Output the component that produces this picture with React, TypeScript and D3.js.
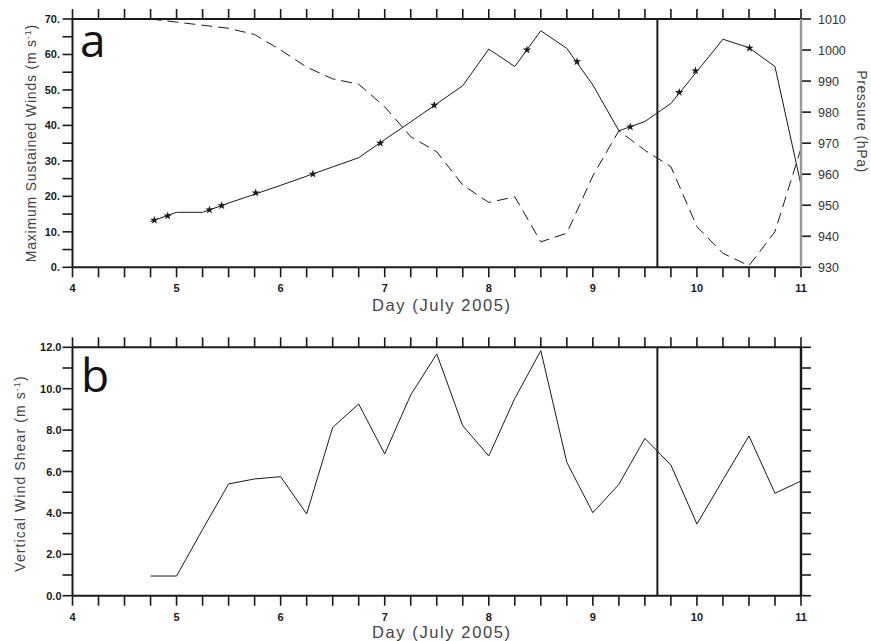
import React from "react";
import * as d3 from "d3";

// ---- data ----
const days = [4.75, 5.0, 5.25, 5.5, 5.75, 6.0, 6.25, 6.5, 6.75, 7.0, 7.25, 7.5, 7.75, 8.0, 8.25, 8.5, 8.75, 9.0, 9.25, 9.5, 9.75, 10.0, 10.25, 10.5, 10.75, 11.0];
const maxWinds = [12.9, 15.5, 15.5, 18.1, 20.6, 23.1, 25.7, 28.3, 30.9, 36.0, 41.0, 46.1, 51.2, 61.5, 56.6, 66.7, 61.7, 51.4, 38.5, 41.1, 46.2, 55.2, 64.3, 61.9, 56.6, 23.2];
const pressure = [1010, 1009, 1008, 1007, 1005, 1000, 994.5, 990.7, 989.0, 981.7, 972.1, 967.2, 956.5, 950.9, 952.7, 938.2, 941.0, 959.5, 974.0, 967.7, 962.4, 943.1, 934.5, 930.5, 941.5, 968.3];
const shear = [0.95, 0.95, 3.2, 5.4, 5.64, 5.75, 3.95, 8.13, 9.26, 6.85, 9.7, 11.68, 8.21, 6.75, 9.53, 11.84, 6.44, 4.01, 5.38, 7.6, 6.31, 3.46, 5.6, 7.72, 4.95, 5.54];
const obsDays = [4.787, 4.915, 5.316, 5.434, 5.76, 6.31, 6.957, 7.476, 8.367, 8.848, 9.36, 9.83, 9.986, 10.505];
const obsWinds = [13.3, 14.5, 16.2, 17.4, 21.0, 26.3, 35.0, 45.7, 61.3, 58.0, 39.6, 49.3, 55.4, 61.8];
const markerDay = 9.62;
const xTickLabels = [4, 5, 6, 7, 8, 9, 10, 11];
const windTickLabels = [0, 10, 20, 30, 40, 50, 60, 70];
const pressureTickLabels = [930, 940, 950, 960, 970, 980, 990, 1000, 1010];
const shearTickLabels = [0, 2, 4, 6, 8, 10, 12];

const X0 = 72.5, X1 = 801;
const TOP_A = 19, BOT_A = 267.3;
const TOP_B = 347.3, BOT_B = 595.7;
const TL = 10;
const FONT = "'Liberation Sans', Arial, sans-serif";
const INK = "#1a1a1a";
const TITLE = "#444";

export default function App() {
  const x = d3.scaleLinear().domain([4, 11]).range([X0, X1]);
  const yW = d3.scaleLinear().domain([0, 70]).range([BOT_A, TOP_A]);
  const yP = d3.scaleLinear().domain([930, 1010]).range([BOT_A, TOP_A]);
  const yS = d3.scaleLinear().domain([0, 12]).range([BOT_B, TOP_B]);

  const xMinor = d3.range(4, 11.001, 0.25);
  const windLine = d3.line<number>().x((_, i) => x(days[i])).y((d) => yW(d))(maxWinds) || "";
  const presLine = d3.line<number>().x((_, i) => x(days[i])).y((d) => yP(d))(pressure) || "";
  const shearLine = d3.line<number>().x((_, i) => x(days[i])).y((d) => yS(d))(shear) || "";
  const star = d3.symbol(d3.symbolStar, 22)() || "";

  const xAxis = (top: number, bot: number, labelY: number, titleY: number) => (
    <g>
      {xMinor.map((d, i) => (
        <g key={i}>
          <line x1={x(d)} x2={x(d)} y1={top} y2={top - TL} stroke={INK} strokeWidth={1.6} />
          <line x1={x(d)} x2={x(d)} y1={bot} y2={bot + TL} stroke={INK} strokeWidth={1.6} />
        </g>
      ))}
      {xTickLabels.map((d) => (
        <text key={d} x={x(d)} y={labelY} textAnchor="middle" fontFamily={FONT} fontWeight="bold" fontSize={11} fill={INK}>
          {d}
        </text>
      ))}
      <text x={441} y={titleY} textAnchor="middle" fontFamily={FONT} fontSize={16.5} fill={TITLE} textLength={138} lengthAdjust="spacing">
        Day (July 2005)
      </text>
    </g>
  );

  return (
    <svg width={871} height={641} style={{ position: "absolute", left: 0, top: 0, background: "#fff" }}>
      <rect width={871} height={641} fill="#fff" />
      {/* ---------- Panel a ---------- */}
      <g>
        {xAxis(TOP_A, BOT_A, 292, 311)}
        {d3.range(0, 70.001, 5).map((d) => (
          <line key={d} x1={X0} x2={X0 - TL} y1={yW(d)} y2={yW(d)} stroke={INK} strokeWidth={1.6} />
        ))}
        {windTickLabels.map((d) => (
          <text key={d} x={60} y={yW(d) + 4} textAnchor="end" fontFamily={FONT} fontWeight="bold" fontSize={11} fill={INK}>
            {d + "."}
          </text>
        ))}
        {pressureTickLabels.map((d) => (
          <g key={d}>
            <line x1={X1} x2={X1 + TL} y1={yP(d)} y2={yP(d)} stroke={INK} strokeWidth={1.6} />
            <text x={818} y={yP(d) + 4.5} fontFamily={FONT} fontSize={12.5} fill="#333">{d}</text>
          </g>
        ))}
        <text transform={`translate(36,${(TOP_A + BOT_A) / 2}) rotate(-90)`} textAnchor="middle" fontFamily={FONT} fontSize={14} letterSpacing={0.8} fill={TITLE}>
          Maximum Sustained Winds (m s<tspan dy={-5} fontSize={9}>-1</tspan><tspan dy={5}>)</tspan>
        </text>
        <text transform={`translate(857,121.5) rotate(90)`} textAnchor="middle" fontFamily={FONT} fontSize={14} letterSpacing={0.6} fill={TITLE}>
          Pressure  (hPa)
        </text>
        <path d={presLine} fill="none" stroke={INK} strokeWidth={1} strokeDasharray="11,6" />
        <path d={windLine} fill="none" stroke={INK} strokeWidth={1} />
        {obsDays.map((d, i) => (
          <path key={i} d={star} transform={`translate(${x(d)},${yW(obsWinds[i])})`} fill={INK} />
        ))}
        <line x1={x(markerDay)} x2={x(markerDay)} y1={TOP_A} y2={BOT_A} stroke={INK} strokeWidth={2} />
        <line x1={X0} x2={X1} y1={TOP_A} y2={TOP_A} stroke={INK} strokeWidth={2} />
        <line x1={X0} x2={X1} y1={BOT_A} y2={BOT_A} stroke={INK} strokeWidth={2} />
        <line x1={X0} x2={X0} y1={TOP_A} y2={BOT_A} stroke={INK} strokeWidth={2} />
        <line x1={X1} x2={X1} y1={TOP_A} y2={BOT_A} stroke="#999" strokeWidth={2.4} />
        <text x={80} y={57} fontFamily="'Open Sans', sans-serif" fontSize={46} fill="#111">a</text>
      </g>
      {/* ---------- Panel b ---------- */}
      <g>
        {xAxis(TOP_B, BOT_B, 621, 638)}
        {d3.range(0, 12.001, 1).map((d) => (
          <g key={d}>
            <line x1={X0} x2={X0 - TL} y1={yS(d)} y2={yS(d)} stroke={INK} strokeWidth={1.6} />
            <line x1={X1} x2={X1 + TL} y1={yS(d)} y2={yS(d)} stroke={INK} strokeWidth={1.6} />
          </g>
        ))}
        {shearTickLabels.map((d) => (
          <text key={d} x={61.5} y={yS(d) + 4} textAnchor="end" fontFamily={FONT} fontWeight="bold" fontSize={11} fill={INK}>
            {d.toFixed(1)}
          </text>
        ))}
        <text transform={`translate(25,${(TOP_B + BOT_B) / 2 + 2}) rotate(-90)`} textAnchor="middle" fontFamily={FONT} fontSize={14} letterSpacing={1.1} fill={TITLE}>
          Vertical Wind Shear (m s<tspan dy={-5} fontSize={9}>-1</tspan><tspan dy={5}>)</tspan>
        </text>
        <path d={shearLine} fill="none" stroke={INK} strokeWidth={1} />
        <line x1={x(markerDay)} x2={x(markerDay)} y1={TOP_B} y2={BOT_B} stroke={INK} strokeWidth={2} />
        <line x1={X0} x2={X1} y1={TOP_B} y2={TOP_B} stroke={INK} strokeWidth={2} />
        <line x1={X0} x2={X1} y1={BOT_B} y2={BOT_B} stroke={INK} strokeWidth={2} />
        <line x1={X0} x2={X0} y1={TOP_B} y2={BOT_B} stroke={INK} strokeWidth={2} />
        <line x1={X1} x2={X1} y1={TOP_B} y2={BOT_B} stroke={INK} strokeWidth={2.4} />
        <text x={81} y={392} fontFamily="'Open Sans', sans-serif" fontSize={46} fill="#111">b</text>
      </g>
    </svg>
  );
}
